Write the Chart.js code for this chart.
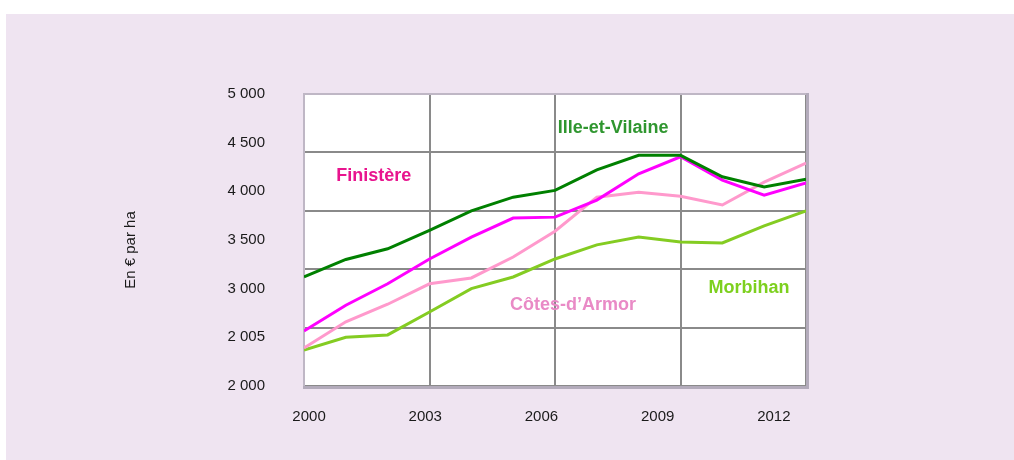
<!DOCTYPE html>
<html>
<head>
<meta charset="utf-8">
<script src="https://cdn.jsdelivr.net/npm/chart.js@4.4.1/dist/chart.umd.min.js"></script>
<style>
  body { margin: 0; background: #fff; }
  #bg { position: absolute; left: 6px; top: 14px; width: 1008px; height: 446px; background: #efe4f1; }
  #chart { position: absolute; left: 0; top: 0; }
</style>
</head>
<body>
<div id="bg"></div>
<canvas id="chart" width="1014" height="460"></canvas>
<script>
var years = [2000, 2001, 2002, 2003, 2004, 2005, 2006, 2007, 2008, 2009, 2010, 2011, 2012]

var illeEtVilaine = [3120, 3300, 3410, 3600, 3800, 3940, 4010, 4220, 4370, 4370, 4150, 4045, 4125]
var finistere = [2565, 2830, 3050, 3305, 3530, 3725, 3735, 3910, 4180, 4355, 4115, 3960, 4085]
var cotesDArmor = [2390, 2660, 2840, 3050, 3110, 3325, 3590, 3940, 3990, 3950, 3860, 4095, 4290]
var morbihan = [2370, 2500, 2525, 2760, 3000, 3120, 3305, 3450, 3530, 3480, 3470, 3645, 3800]

var yearTicks = [2000, 2003, 2006, 2009, 2012]
var yTickValues = [2000, 2500, 3000, 3500, 4000, 4500, 5000]
var yTickLabels = ['2 000', '2 005', '3 000', '3 500', '4 000', '4 500', '5 000']

var yTitle = 'En € par ha'

// series names written inside the plot, placed in data units
var seriesLabels = [
    { text: 'Finistère', x: 2001.67, y: 4158, color: '#e8148e' },
    { text: 'Ille-et-Vilaine', x: 2007.39, y: 4651, color: '#2f962f' },
    { text: 'Côtes-d’Armor', x: 2006.43, y: 2832, color: '#e98ac6' },
    { text: 'Morbihan', x: 2010.64, y: 3007, color: '#7dd01e' }
]

var fontFamily = '"Liberation Sans", Arial, sans-serif'

function points(values) {
    return values.map((v, i) => ({ x: years[i], y: v }))
}

function line(label, values, color) {
    return {
        label: label,
        data: points(values),
        borderColor: color,
        borderWidth: 3,
        pointRadius: 0,
        tension: 0,
        fill: false
    }
}

var plotFrame = {
    id: 'plotFrame',
    beforeDraw: function (chart) {
        let a = chart.chartArea, ctx = chart.ctx
        ctx.save()
        ctx.fillStyle = '#ffffff'
        ctx.fillRect(a.left, a.top, a.right - a.left, a.bottom - a.top)

        // axis title, a little below the middle of the plot
        ctx.translate(a.left - 173, (a.top + a.bottom) / 2 + 10)
        ctx.rotate(-Math.PI / 2)
        ctx.font = '15px ' + fontFamily
        ctx.fillStyle = '#1a1a1a'
        ctx.textAlign = 'center'
        ctx.textBaseline = 'middle'
        ctx.fillText(yTitle, 0, 0)
        ctx.restore()
    },
    beforeDatasetsDraw: function (chart) {
        let a = chart.chartArea, ctx = chart.ctx
        ctx.save()
        ctx.strokeStyle = '#bfb7c5'
        ctx.lineWidth = 2
        ctx.beginPath()
        ctx.moveTo(a.left, a.bottom)
        ctx.lineTo(a.left, a.top)
        ctx.lineTo(a.right, a.top)
        ctx.stroke()
        ctx.strokeStyle = '#b3abbb'
        ctx.lineWidth = 3
        ctx.beginPath()
        ctx.moveTo(a.right + 1.5, a.top - 1)
        ctx.lineTo(a.right + 1.5, a.bottom + 1.5)
        ctx.lineTo(a.left - 1, a.bottom + 1.5)
        ctx.stroke()
        ctx.restore()
    },
    afterDatasetsDraw: function (chart) {
        let ctx = chart.ctx, sx = chart.scales.x, sy = chart.scales.y
        ctx.save()
        ctx.font = 'bold 18px ' + fontFamily
        ctx.textAlign = 'center'
        ctx.textBaseline = 'middle'
        seriesLabels.forEach(l => {
            ctx.fillStyle = l.color
            ctx.fillText(l.text, sx.getPixelForValue(l.x), sy.getPixelForValue(l.y))
        })
        ctx.restore()
    }
}

var tickFont = { family: fontFamily, size: 15 }

new Chart(document.getElementById('chart'), {
    type: 'line',
    data: {
        datasets: [
            line('Ille-et-Vilaine', illeEtVilaine, '#008000'),
            line('Finistère', finistere, '#ff00ff'),
            line('Côtes-d’Armor', cotesDArmor, '#ff99cc'),
            line('Morbihan', morbihan, '#84cc22')
        ]
    },
    options: {
        responsive: false,
        animation: false,
        devicePixelRatio: 1,
        layout: { padding: { top: 94, right: 208, left: 0, bottom: 0 } },
        plugins: { legend: { display: false }, tooltip: { enabled: false } },
        scales: {
            x: {
                type: 'linear',
                position: 'bottom',
                min: 2000,
                max: 2012,
                ticks: { display: false, stepSize: 3 },
                grid: { color: '#8a8a8a', lineWidth: 2, drawTicks: false },
                border: { display: false },
                afterFit: s => { s.height = 0 }
            },
            xl: {
                type: 'linear',
                position: 'bottom',
                min: 1999.87,
                max: 2012.83,
                afterBuildTicks: s => { s.ticks = yearTicks.map(v => ({ value: v })) },
                ticks: { color: '#1a1a1a', font: tickFont, padding: 22, maxRotation: 0, callback: v => String(v) },
                grid: { display: false, drawTicks: false },
                border: { display: false },
                afterFit: s => { s.height = 74 }
            },
            y: {
                position: 'left',
                min: 2000,
                max: 5000,
                afterBuildTicks: s => { s.ticks = yTickValues.map(v => ({ value: v })) },
                ticks: {
                    color: '#1a1a1a',
                    font: tickFont,
                    padding: 39,
                    callback: v => yTickLabels[yTickValues.indexOf(v)]
                },
                grid: { display: false, drawTicks: false },
                border: { display: false },
                afterFit: s => { s.width = 304 }
            },
            yg: {
                position: 'left',
                min: 0,
                max: 5,
                ticks: { display: false, stepSize: 1 },
                grid: { color: '#8a8a8a', lineWidth: 2, drawTicks: false },
                border: { display: false },
                afterFit: s => { s.width = 0 }
            }
        }
    },
    plugins: [plotFrame]
})
</script>
</body>
</html>
